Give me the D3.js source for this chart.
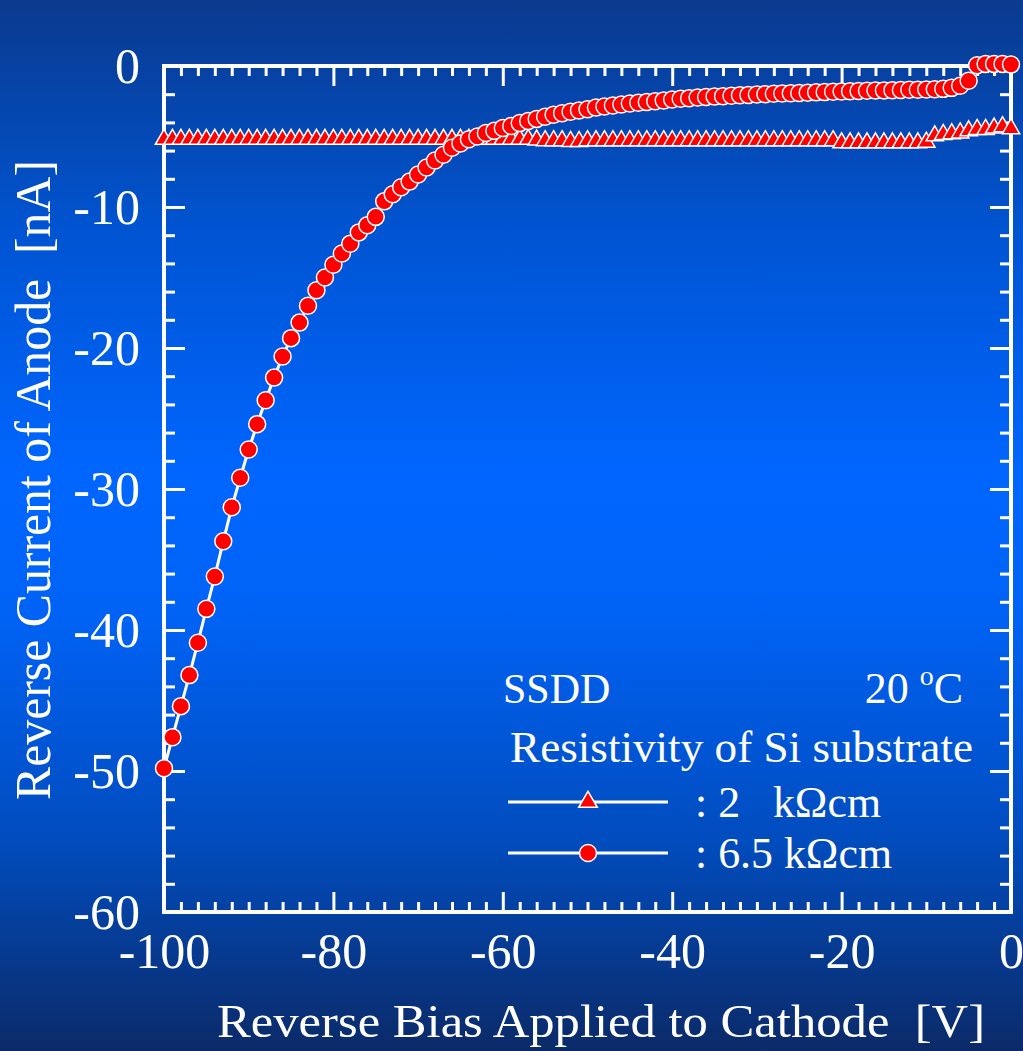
<!DOCTYPE html>
<html>
<head>
<meta charset="utf-8">
<script src="https://cdn.jsdelivr.net/npm/d3@7"></script>
<style>
  html, body { margin: 0; padding: 0; background: #0a2a66; }
  svg { display: block; }
  text { font-family: "Liberation Serif", "Times New Roman", serif; fill: #fff; }
</style>
</head>
<body>
<div id="chart"></div>
<script>
// Reverse current vs reverse bias, two Si substrate resistivities.
// One reading per volt, 0 .. -100 V.

const biasV = d3.range(-100, 1); // -100 .. 0

// 2 kΩcm (triangles)
const current2k = [
  -5.2, -5.2, -5.2, -5.2, -5.2, -5.2, -5.2, -5.2, -5.2, -5.2,   // -100 .. -91
  -5.2, -5.2, -5.2, -5.2, -5.2, -5.2, -5.2, -5.2, -5.2, -5.2,   // -90 .. -81
  -5.2, -5.2, -5.2, -5.2, -5.2, -5.2, -5.2, -5.2, -5.2, -5.2,   // -80 .. -71
  -5.2, -5.2, -5.2, -5.2, -5.2, -5.2, -5.2, -5.2, -5.2, -5.2,   // -70 .. -61
  -5.2, -5.2, -5.2, -5.2, -5.25, -5.3, -5.3, -5.3, -5.35, -5.35, // -60 .. -51
  -5.3, -5.3, -5.3, -5.3, -5.3, -5.3, -5.3, -5.3, -5.3, -5.3,   // -50 .. -41
  -5.3, -5.3, -5.3, -5.3, -5.3, -5.3, -5.3, -5.3, -5.3, -5.3,   // -40 .. -31
  -5.3, -5.3, -5.3, -5.3, -5.3, -5.3, -5.3, -5.3, -5.3, -5.3,   // -30 .. -21
  -5.45, -5.45, -5.45, -5.45, -5.45, -5.45, -5.45, -5.45, -5.45, -5.45, // -20 .. -11
  -5.4, -4.95, -4.85, -4.8, -4.75, -4.6, -4.5, -4.5, -4.4, -4.3, // -10 .. -1
  -4.45                                                           // 0
];

// 6.5 kΩcm (circles)
const current65k = [
  -49.8, -47.6, -45.4, -43.2, -40.9, -38.5, -36.2, -33.7, -31.3, -29.2, // -100 .. -91
  -27.2, -25.4, -23.7, -22.1, -20.6, -19.3, -18.2, -17.0, -15.9, -15.0, // -90 .. -81
  -14.1, -13.3, -12.6, -11.8, -11.3, -10.7, -9.6, -9.1, -8.6, -8.2,     // -80 .. -71
  -7.7, -7.2, -6.7, -6.3, -5.8, -5.5, -5.2, -5.0, -4.75, -4.6,          // -70 .. -61
  -4.4, -4.25, -4.05, -3.9, -3.75, -3.6, -3.45, -3.35, -3.25, -3.15,    // -60 .. -51
  -3.07, -2.95, -2.87, -2.8, -2.73, -2.66, -2.6, -2.55, -2.5, -2.44,    // -50 .. -41
  -2.38, -2.32, -2.28, -2.24, -2.2, -2.17, -2.14, -2.11, -2.08, -2.05,  // -40 .. -31
  -2.02, -2.0, -1.97, -1.95, -1.93, -1.91, -1.89, -1.87, -1.85, -1.83,  // -30 .. -21
  -1.81, -1.79, -1.77, -1.76, -1.74, -1.73, -1.72, -1.7, -1.69, -1.68,  // -20 .. -11
  -1.66, -1.65, -1.62, -1.55, -1.4, -1.05, 0.05, 0.15, 0.15, 0.15,      // -10 .. -1
  0.1                                                                   // 0
];

const xMajor = [-100, -80, -60, -40, -20, 0];
const yMajor = [0, -10, -20, -30, -40, -50, -60];

const W = 1023, H = 1051;
const frame = { left: 164, right: 1011, top: 66, bottom: 912 };

const svg = d3.select('#chart').append('svg').attr('width', W).attr('height', H);

// background: dark navy → bright blue → dark navy
const grad = svg.append('defs').append('linearGradient')
  .attr('id', 'bg').attr('x1', 0).attr('y1', 0).attr('x2', 0).attr('y2', 1);
[[0, '#0a3a8e'], [0.22, '#0054d2'], [0.45, '#0066ff'], [0.58, '#0063f6'],
 [0.8, '#014cbe'], [1, '#0b2a68']].forEach(([o, c]) =>
  grad.append('stop').attr('offset', o).attr('stop-color', c));
svg.append('rect').attr('width', W).attr('height', H).attr('fill', 'url(#bg)');

const x = d3.scaleLinear().domain([-100, 0]).range([frame.left, frame.right]);
const y = d3.scaleLinear().domain([-60, 0]).range([frame.bottom, frame.top]);

const xMinor = d3.range(-100, 1, 2).filter((v) => v % 20 !== 0);
const yMinor = d3.range(-60, 1, 2).filter((v) => v % 10 !== 0);

function styleAxis(sel) {
  sel.select('.domain').remove();
  sel.selectAll('line').attr('stroke', '#fff').attr('stroke-width', 3);
  sel.selectAll('text').style('font-size', '50px').attr('fill', '#fff');
}

const fmt = (d) => String(d);

// ticks point inward on all four sides
svg.append('g').attr('transform', `translate(0,${frame.bottom})`)
  .call(d3.axisBottom(x).tickValues(xMinor).tickSize(-10).tickFormat(''))
  .call(styleAxis);
svg.append('g').attr('transform', `translate(0,${frame.bottom})`)
  .call(d3.axisBottom(x).tickValues(xMajor).tickSize(-20).tickPadding(20).tickFormat(fmt))
  .call(styleAxis);
svg.append('g').attr('transform', `translate(0,${frame.top})`)
  .call(d3.axisTop(x).tickValues(xMinor).tickSize(-10).tickFormat(''))
  .call(styleAxis);
svg.append('g').attr('transform', `translate(0,${frame.top})`)
  .call(d3.axisTop(x).tickValues(xMajor).tickSize(-20).tickFormat(''))
  .call(styleAxis);

svg.append('g').attr('transform', `translate(${frame.left},0)`)
  .call(d3.axisLeft(y).tickValues(yMinor).tickSize(-11).tickFormat(''))
  .call(styleAxis);
svg.append('g').attr('transform', `translate(${frame.left},0)`)
  .call(d3.axisLeft(y).tickValues(yMajor).tickSize(-21).tickPadding(24).tickFormat(fmt))
  .call(styleAxis);
svg.append('g').attr('transform', `translate(${frame.right},0)`)
  .call(d3.axisRight(y).tickValues(yMinor).tickSize(-11).tickFormat(''))
  .call(styleAxis);
svg.append('g').attr('transform', `translate(${frame.right},0)`)
  .call(d3.axisRight(y).tickValues(yMajor).tickSize(-21).tickFormat(''))
  .call(styleAxis);

// frame
svg.append('rect')
  .attr('x', frame.left).attr('y', frame.top)
  .attr('width', frame.right - frame.left).attr('height', frame.bottom - frame.top)
  .attr('fill', 'none').attr('stroke', '#fff').attr('stroke-width', 4);

// axis titles
svg.append('text')
  .attr('x', 217).attr('y', 1037)
  .attr('textLength', 768).attr('lengthAdjust', 'spacingAndGlyphs')
  .style('font-size', '46px').style('white-space', 'pre')
  .text('Reverse Bias Applied to Cathode  [V]');
svg.append('text')
  .attr('transform', 'translate(50,800) rotate(-90)')
  .attr('textLength', 640).attr('lengthAdjust', 'spacingAndGlyphs')
  .style('font-size', '50px').style('white-space', 'pre')
  .text('Reverse Current of Anode  [nA]');

// markers
const triangle = d3.symbol().type(d3.symbolTriangle).size(130);
const circleR = 8.5;

const line = d3.line().x((d) => x(d[0])).y((d) => y(d[1]));
const pts2k = biasV.map((v, i) => [v, current2k[i]]);
const pts65k = biasV.map((v, i) => [v, current65k[i]]);

// 2 kΩcm
svg.append('path').datum(pts2k).attr('d', line)
  .attr('fill', 'none').attr('stroke', '#fff').attr('stroke-width', 3);
svg.append('g').selectAll('path').data(pts2k).join('path')
  .attr('d', triangle)
  .attr('transform', (d) => `translate(${x(d[0])},${y(d[1])})`)
  .attr('fill', '#ff0000').attr('stroke', '#fff').attr('stroke-width', 1.5);

// 6.5 kΩcm
svg.append('path').datum(pts65k).attr('d', line)
  .attr('fill', 'none').attr('stroke', '#fff').attr('stroke-width', 3);
svg.append('g').selectAll('circle').data(pts65k).join('circle')
  .attr('cx', (d) => x(d[0])).attr('cy', (d) => y(d[1])).attr('r', circleR)
  .attr('fill', '#ff0000').attr('stroke', '#fff').attr('stroke-width', 1.5);

// annotations + legend
svg.append('text').attr('x', 503).attr('y', 703).style('font-size', '42px').text('SSDD');
const temp = svg.append('text').attr('x', 963).attr('y', 703)
  .attr('text-anchor', 'end').style('font-size', '44px');
temp.append('tspan').text('20 ');
temp.append('tspan').attr('dy', -18).style('font-size', '28px').text('o');
temp.append('tspan').attr('dy', 18).text('C');

svg.append('text').attr('x', 510).attr('y', 762)
  .attr('textLength', 463).attr('lengthAdjust', 'spacingAndGlyphs')
  .style('font-size', '44px').text('Resistivity of Si substrate');

const legendRows = [
  { label: ': 2   kΩcm', marker: 'triangle', y: 802, len: 186 },
  { label: ': 6.5 kΩcm', marker: 'circle', y: 853, len: 197 },
];
const lg = svg.append('g').selectAll('g').data(legendRows).join('g')
  .attr('transform', (d) => `translate(0,${d.y})`);
lg.append('line').attr('x1', 508).attr('x2', 668).attr('y1', 0).attr('y2', 0)
  .attr('stroke', '#fff').attr('stroke-width', 3);
lg.filter((d) => d.marker === 'triangle').append('path')
  .attr('d', d3.symbol().type(d3.symbolTriangle).size(150))
  .attr('transform', 'translate(588,0)')
  .attr('fill', '#ff0000').attr('stroke', '#fff').attr('stroke-width', 1.5);
lg.filter((d) => d.marker === 'circle').append('circle')
  .attr('cx', 588).attr('cy', 0).attr('r', circleR)
  .attr('fill', '#ff0000').attr('stroke', '#fff').attr('stroke-width', 1.5);
lg.append('text').attr('x', 695).attr('y', 15)
  .attr('textLength', (d) => d.len).attr('lengthAdjust', 'spacingAndGlyphs')
  .style('font-size', '44px').style('white-space', 'pre')
  .text((d) => d.label);
</script>
</body>
</html>
